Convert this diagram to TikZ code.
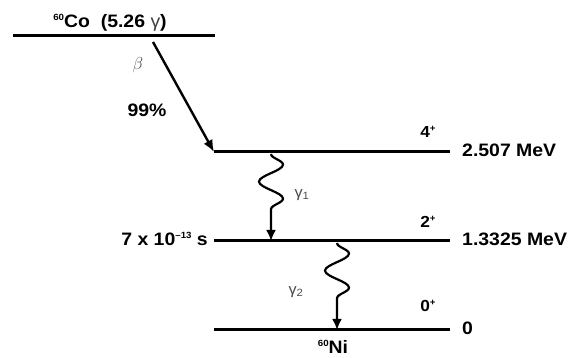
\documentclass[tikz,border=0pt]{standalone}
\usepackage{fontspec}
\setmainfont{Liberation Sans}[FakeStretch=1.08]
\usepackage{tikz}
\usetikzlibrary{arrows.meta,decorations.pathmorphing}
\newcommand{\dcysup}[1]{\raisebox{0.75ex}{\fontsize{9}{10}\selectfont #1}}
\tikzset{
 dcy level/.style={line width=3pt},
 dcy beta/.style={line width=2.4pt,-{Latex[length=12pt,width=10pt]}},
 dcy gamma/.style={line width=2.2pt,-{Latex[length=11pt,width=10pt]},
                   decorate,decoration={snake,segment length=34pt,
                   amplitude=12pt,post length=20pt}},
 dcy label/.style={font=\fontsize{18}{20}\selectfont\bfseries,inner sep=0pt},
 dcy spin/.style={font=\fontsize{16}{18}\selectfont\bfseries,inner sep=0pt},
 dcy grey label/.style={text=black!70,inner sep=0pt}
}

\begin{document}
\begin{tikzpicture}[x=1pt,y=-1pt]
 \useasboundingbox (0,0) rectangle (571,358);
 % parent level
 \coordinate (cow) at (13,36);
 \coordinate (coe) at (215,36);
 \draw[dcy level] (cow)--(coe);
 \node[dcy label,anchor=base] (co) at (110,28)
   {\dcysup{60}Co\ \ (5.26 {\mdseries\color{black!75}γ})};
 % daughter levels: name/y/energy/spin/spin baseline
 \foreach \n/\y/\E/\J/\s in {4/152/2.507 MeV/4/138,2/241/1.3325 MeV/2/228,
                             0/330/0/0/312}{
   \coordinate (l\n w) at (214,\y);
   \coordinate (l\n e) at (450,\y);
   \draw[dcy level] (l\n w)--(l\n e);
   \node[dcy label,anchor=base west] (en\n) at (462,\y+5) {\E};
   \node[dcy spin,anchor=base] (sp\n) at (428,\s) {\J\dcysup{+}};
 }
 \node[dcy label,anchor=base east] (tau) at (208,246)
   {7 x 10\dcysup{--13} s};
 \node[dcy label,anchor=base] (ni) at (333,354) {\dcysup{60}Ni};
 % beta branch
 \coordinate (bs) at (153,42);
 \draw[dcy beta] (bs)--(l4w);
 \node[dcy grey label,font=\fontsize{19}{20}\selectfont] (beta) at (138,65) {$\beta$};
 \node[dcy label] (br) at (147,110) {99\%};
 % gamma cascade
 \coordinate (g1s) at (271,154);
 \coordinate (g1e) at (271,241);
 \coordinate (g2s) at (337,243);
 \coordinate (g2e) at (337,330);
 \draw[dcy gamma] (g1s)--(g1e);
 \draw[dcy gamma] (g2s)--(g2e);
 \node[dcy grey label,font=\fontsize{15}{16}\selectfont] (ga1) at (302,195)
   {γ\textsubscript{1}};
 \node[dcy grey label,font=\fontsize{15}{16}\selectfont] (ga2) at (296,292)
   {γ\textsubscript{2}};
\end{tikzpicture}
\end{document}
